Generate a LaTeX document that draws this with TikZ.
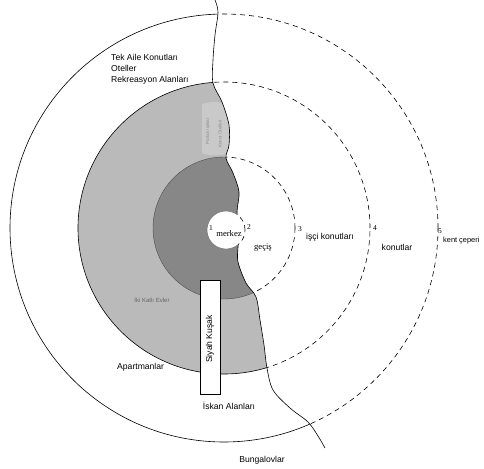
\documentclass[tikz,border=0pt]{standalone}
\usepackage{fontspec}
\setmainfont{Liberation Sans}
\newfontfamily\serifm{Liberation Serif}
\newcommand\wavypts{(215,0) (218,12) (215,35) (213,60) (213,83) (222,102) (229,125) (229,145) (226,158) (233,173) (239,192) (237,212) (239,230) (238,247) (238,262) (246,283) (256,297) (260,320) (264,345) (267,368) (273,390) (290,408) (308,422) (318,436) (325,448)}
\newcommand\clipL{\expandafter\clipLx\expandafter{\wavypts}}
\newcommand\clipLx[1]{\clip (215,-20) -- plot[smooth, tension=0.55] coordinates {#1} -- (330,490) -- (-20,490) -- (-20,-20) -- cycle;}
\newcommand\clipR{\expandafter\clipRx\expandafter{\wavypts}}
\newcommand\clipRx[1]{\clip (215,-20) -- plot[smooth, tension=0.55] coordinates {#1} -- (330,490) -- (500,490) -- (500,-20) -- cycle;}
\newcommand\drawwavy{\expandafter\drawwavyx\expandafter{\wavypts}}
\newcommand\drawwavyx[1]{\draw[line width=0.6pt] plot[smooth, tension=0.55] coordinates {#1};}
\begin{document}
\begin{tikzpicture}[x=1pt,y=-1pt,
  lbl/.style={inner sep=0pt, font=\fontsize{8.6}{10}\selectfont},
  slbl/.style={inner sep=0pt, font=\serifm\fontsize{8.6}{10}\selectfont},
  num/.style={inner sep=0pt, font=\serifm\fontsize{7.5}{9}\selectfont},
  faint/.style={inner sep=0pt, text=black!45, font=\fontsize{4.5}{5}\selectfont},
  ring/.style={line width=0.6pt},
  dring/.style={line width=0.6pt, dash pattern=on 5pt off 4pt},
  lightfill/.style={fill=black!27},
  darkfill/.style={fill=black!47}]
\useasboundingbox (0,0) rectangle (484,468);
\fill[white] (0,0) rectangle (484,468);
\coordinate (C) at (224,228);
\coordinate (M) at (226,230);
% left region fills
\begin{scope}
  \clipL
  \fill[lightfill] (C) circle[radius=146pt];
  \fill[black!21] (202,104) .. controls (215,100) and (226,102) .. (232,110) -- (232,153) .. controls (220,156) and (208,156) .. (202,153) -- cycle;
  \fill[darkfill] (C) circle[radius=71pt];
  \draw[ring] (C) circle[radius=214pt];
  \draw[ring] (C) circle[radius=146pt];
  \draw[line width=0.4pt, black!70] (C) circle[radius=71pt];
\end{scope}
% right region dashed rings
\begin{scope}
  \clipR
  \draw[dring] (C) circle[radius=214pt];
  \draw[dring] (C) circle[radius=146pt];
  \draw[dring] (C) circle[radius=71pt];
\end{scope}
% boundary line
\drawwavy
% merkez disc
\fill[white] (M) circle[radius=19pt];
\begin{scope}
  \clipR
  \draw[dring] (M) circle[radius=19pt];
\end{scope}
\begin{scope}
  \clipL
  \draw[line width=0.4pt, black!60] (M) circle[radius=19pt];
\end{scope}
% faint texts
\node[faint, rotate=90] (f1) at (208,131) {Parlak Işıklar};
\node[faint, rotate=90] (f2) at (220,134) {Konut Otelleri};
\node[inner sep=0pt, text=black!60, font=\fontsize{6}{7}\selectfont] (ike) at (152,300) {İki Katlı Evler};
% Siyah Kusak
\node[draw, fill=white, line width=0.6pt, minimum width=20pt, minimum height=114pt, inner sep=0pt] (sk) at (210,337) {};
\node[lbl, rotate=90] (skt) at (210,339) {Siyah Kuşak};
% labels
\node[lbl, anchor=west] (tek) at (111,57) {Tek Aile Konutları};
\node[lbl, anchor=west] (ote) at (111,68.5) {Oteller};
\node[lbl, anchor=west] (rek) at (111,80) {Rekreasyon Alanları};
\node[lbl, anchor=west] (apt) at (117,367) {Apartmanlar};
\node[lbl] (isk) at (229,406) {İskan Alanları};
\node[lbl] (bun) at (262,460) {Bungalovlar};
\node[slbl] (mer) at (229,234) {merkez};
\node[slbl] (gec) at (263,248) {geçiş};
\node[lbl] (isc) at (330,237) {işçi konutları};
\node[lbl] (kon) at (397,247) {konutlar};
\node[lbl, anchor=west, font=\fontsize{7.4}{9}\selectfont] (ken) at (443,241) {kent çeperi};
\node[num] (n1) at (211,228) {1};
\node[num] (n2) at (249,227) {2};
\node[num] (n3) at (300,229) {3};
\node[num] (n4) at (375,228) {4};
\node[num] (n5) at (440,231) {5};
\end{tikzpicture}
\end{document}
